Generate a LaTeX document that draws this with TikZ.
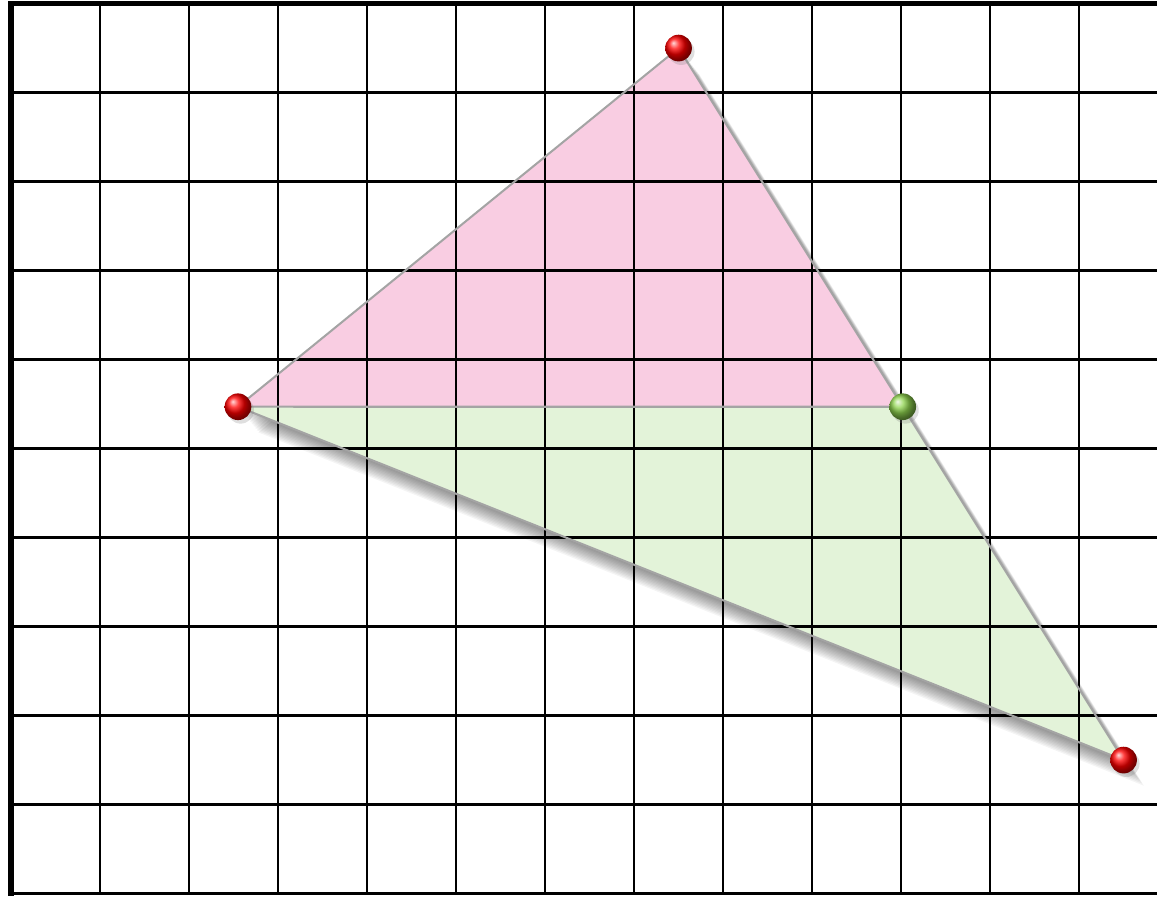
\documentclass[tikz,border=0pt]{standalone}
\usepackage[dvipsnames]{xcolor}
\usetikzlibrary{calc, shadows}
\definecolor{triPink}{HTML}{F9CDE2}
\definecolor{triGreen}{HTML}{E3F3D9}
\definecolor{edgeGray}{HTML}{A4A4A4}
\definecolor{ptGreen}{HTML}{8FD44E}

\begin{document}
\begin{tikzpicture}[
            x=1cm, y=1cm,
            grid line/.style ={line width=0.8pt, draw=black},
            frame line/.style={line width=1.7pt, draw=black, line cap=rect},
            tri edge/.style  ={draw=edgeGray, line width=0.65pt, line join=round},
            tri blur/.style  ={fill=black, opacity=0.042},
            pt/.style        ={circle, minimum size=0.3cm, inner sep=0pt, shading=ball,
                               drop shadow={shadow xshift=0.03cm, shadow yshift=-0.04cm, opacity=0.25}}
        ]
        \useasboundingbox (-0.124,-0.03) rectangle (12.876,10.04);

        %% ---- triangle corners -----------------------------------------------
        \coordinate (A) at (7.5,9.5);
        \coordinate (B) at (2.55,5.47);
        \coordinate (C) at (12.5,1.5);
        % D sits on A--C, level with B
        \coordinate (D) at ($(A)!0.50375!(C)$);

        %% ---- soft shadow, then the two fills (grid goes on top) -------------
        \foreach \s [evaluate=\s as \dx using 0.019*\s,
                     evaluate=\s as \dy using -0.024*\s] in {1,...,12}
            \fill[tri blur] ($(A)+(\dx,\dy)$) -- ($(B)+(\dx,\dy)$) -- ($(C)+(\dx,\dy)$) -- cycle;
        \fill[triPink]  (A) -- (B) -- (D) -- cycle;
        \fill[triGreen] (B) -- (C) -- (D) -- cycle;

        %% ---- background grid ------------------------------------------------
        \begin{scope}
            \clip (-0.124,-0.03) rectangle (12.876,10.04);
            \draw[grid line] (0,0) grid (12.95,10);
            \draw[frame line] (0,0) -- (0,10) -- (12.95,10);
        \end{scope}

        %% ---- triangle edges -------------------------------------------------
        \draw[tri edge] (A) -- (B) -- (C) -- cycle;
        \draw[tri edge] (B) -- (D);

        %% ---- points ----------------------------------------------------------
        \node[pt, ball color=red]     (ptA) at (A) {};
        \node[pt, ball color=red]     (ptB) at (B) {};
        \node[pt, ball color=red]     (ptC) at (C) {};
        \node[pt, ball color=ptGreen] (ptD) at (D) {};
    \end{tikzpicture}
\end{document}
